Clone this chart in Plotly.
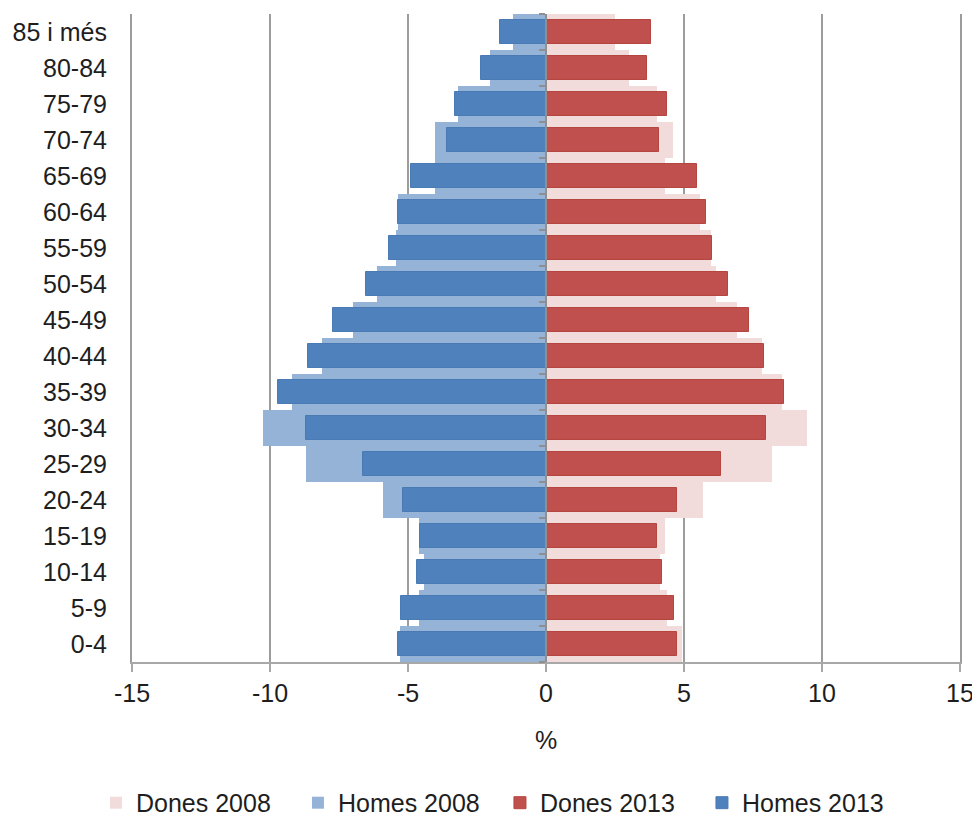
import plotly.graph_objects as go

ages = ["0-4", "5-9", "10-14", "15-19", "20-24", "25-29", "30-34", "35-39", "40-44",
        "45-49", "50-54", "55-59", "60-64", "65-69", "70-74", "75-79", "80-84", "85 i més"]

homes_2013 = [-5.35, -5.27, -4.66, -4.57, -5.19, -6.62, -8.71, -9.72, -8.64,
              -7.70, -6.54, -5.68, -5.35, -4.89, -3.60, -3.31, -2.37, -1.67]
homes_2008 = [-5.29, -4.59, -4.42, -4.59, -5.90, -8.71, -10.24, -9.19, -8.13,
              -6.98, -6.13, -5.45, -5.35, -4.03, -4.03, -3.18, -2.03, -1.21]
dones_2013 = [4.75, 4.65, 4.22, 4.01, 4.74, 6.33, 7.97, 8.62, 7.90,
              7.34, 6.61, 6.01, 5.80, 5.46, 4.09, 4.37, 3.66, 3.80]
dones_2008 = [4.92, 4.37, 4.13, 4.31, 5.68, 8.20, 9.44, 8.54, 7.81,
              6.91, 6.16, 5.97, 5.58, 4.31, 4.59, 4.01, 3.02, 2.50]

x_ticks = [-15, -10, -5, 0, 5, 10, 15]

FONT = "Liberation Sans, Arial, Helvetica, sans-serif"
TXT = "#1e1e1e"
GRID = "#9c9c9c"

fig = go.Figure()
fig.add_trace(go.Bar(name="Dones 2008", y=ages, x=dones_2008, orientation="h",
                     width=1.0, marker=dict(color="#F2DCDB", line=dict(width=0))))
fig.add_trace(go.Bar(name="Homes 2008", y=ages, x=homes_2008, orientation="h",
                     width=1.0, marker=dict(color="#95B3D7", line=dict(width=0))))
fig.add_trace(go.Bar(name="Dones 2013", y=ages, x=dones_2013, orientation="h",
                     width=0.66, marker=dict(color="#C0504D", line=dict(color="#B5453F", width=1))))
fig.add_trace(go.Bar(name="Homes 2013", y=ages, x=homes_2013, orientation="h",
                     width=0.66, marker=dict(color="#4F81BD", line=dict(color="#4A7AB3", width=1))))
# invisible helper trace for the central category axis with boundary ticks
fig.add_trace(go.Scatter(y=ages, x=[0] * len(ages), yaxis="y2", mode="none",
                         showlegend=False, hoverinfo="skip"))

# the page body adds an 8px offset, so margins are reduced by 8px at left/top
fig.update_layout(
    width=980, height=817,
    margin=dict(l=124, r=28, t=6, b=163, autoexpand=False),
    paper_bgcolor="white", plot_bgcolor="white",
    barmode="overlay", bargap=0,
    font=dict(family=FONT, size=25, color=TXT),
    xaxis=dict(range=[-15, 15], tickvals=x_ticks, ticktext=[str(v) for v in x_ticks],
               automargin=False,
               showgrid=True, gridcolor=GRID, gridwidth=2,
               zeroline=False,
               showline=True, linecolor="#a8a8a8", linewidth=2,
               ticks="outside", ticklen=8, tickwidth=2, tickcolor="#a8a8a8",
               title=dict(text="%", standoff=25, font=dict(size=25, color=TXT)),
               tickfont=dict(size=25, color=TXT)),
    yaxis=dict(type="category", categoryorder="array", categoryarray=ages,
               automargin=False,
               range=[-0.5, 17.5], showgrid=False, zeroline=False,
               showline=True, mirror=True, linecolor=GRID, linewidth=2,
               ticks="", ticklabelstandoff=18, tickfont=dict(size=25, color=TXT)),
    yaxis2=dict(type="category", categoryorder="array", categoryarray=ages,
                automargin=False,
                range=[-0.5, 17.5], overlaying="y", anchor="free", position=0.5,
                side="left", showticklabels=False, showgrid=False, zeroline=False,
                showline=True, linecolor="#8f8f8f", linewidth=2,
                ticks="outside", tickson="boundaries",
                ticklen=6, tickwidth=2, tickcolor="#8f8f8f"),
    legend=dict(orientation="h", xref="container", yref="container",
                x=0.502, xanchor="center", y=0.027, yanchor="middle",
                font=dict(size=25, color=TXT), entrywidth=157, entrywidthmode="pixels",
                traceorder="normal"),
    showlegend=True,
)

fig.write_html("out.html")
